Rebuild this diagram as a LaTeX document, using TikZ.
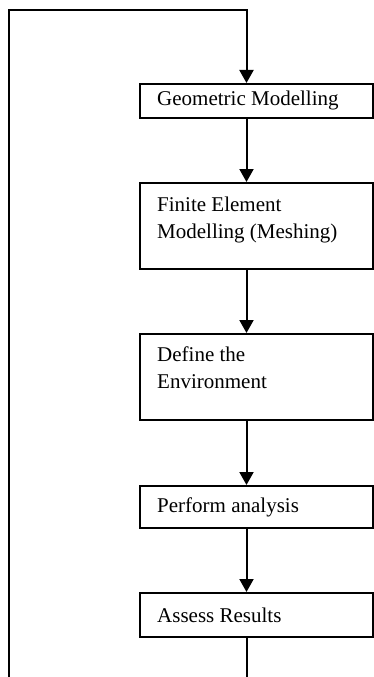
\documentclass[tikz,border=0pt]{standalone}
\usepackage{fontspec}
\setmainfont{Liberation Serif}
\usetikzlibrary{arrows.meta}
\begin{document}
\begin{tikzpicture}[x=1pt,y=-1pt,
  box/.style={draw=black, line width=1.5pt, rectangle, minimum width=233pt, inner sep=0pt, anchor=north west},
  lbl/.style={anchor=base west, inner sep=0pt, align=left, font=\fontsize{21pt}{26.5pt}\selectfont},
  conn/.style={draw=black, line width=2pt},
  arr/.style={conn, -{Triangle[width=14pt,length=13pt]}}]
\useasboundingbox (0,0) rectangle (373,677);
\node[box, minimum height=34pt] (b1) at (139,83) {};
\node[box, minimum height=86pt] (b2) at (139,182) {};
\node[box, minimum height=86pt] (b3) at (139,333) {};
\node[box, minimum height=42pt] (b4) at (139,485) {};
\node[box, minimum height=44pt] (b5) at (139,592) {};
\node[lbl] (t1) at (157,105.5) {Geometric Modelling};
\node[lbl] (t2) at (157,238) {Finite Element\\Modelling (Meshing)};
\node[lbl] (t3) at (157,388) {Define the\\Environment};
\node[lbl] (t4) at (157,512) {Perform analysis};
\node[lbl] (t5) at (157,622) {Assess Results};
\coordinate (ax) at (246.5,0);
\draw[arr] (b1.south -| ax) -- (b2.north -| ax);
\draw[arr] (b2.south -| ax) -- (b3.north -| ax);
\draw[arr] (b3.south -| ax) -- (b4.north -| ax);
\draw[arr] (b4.south -| ax) -- (b5.north -| ax);
\coordinate (bot) at (246.5,678);
\coordinate (lb) at (8.5,678);
\coordinate (tc) at (8.5,10);
\draw[conn] (b5.south -| ax) -- (bot);
\draw[arr] (lb) -- (tc) -| (b1.north -| ax);
\end{tikzpicture}
\end{document}
